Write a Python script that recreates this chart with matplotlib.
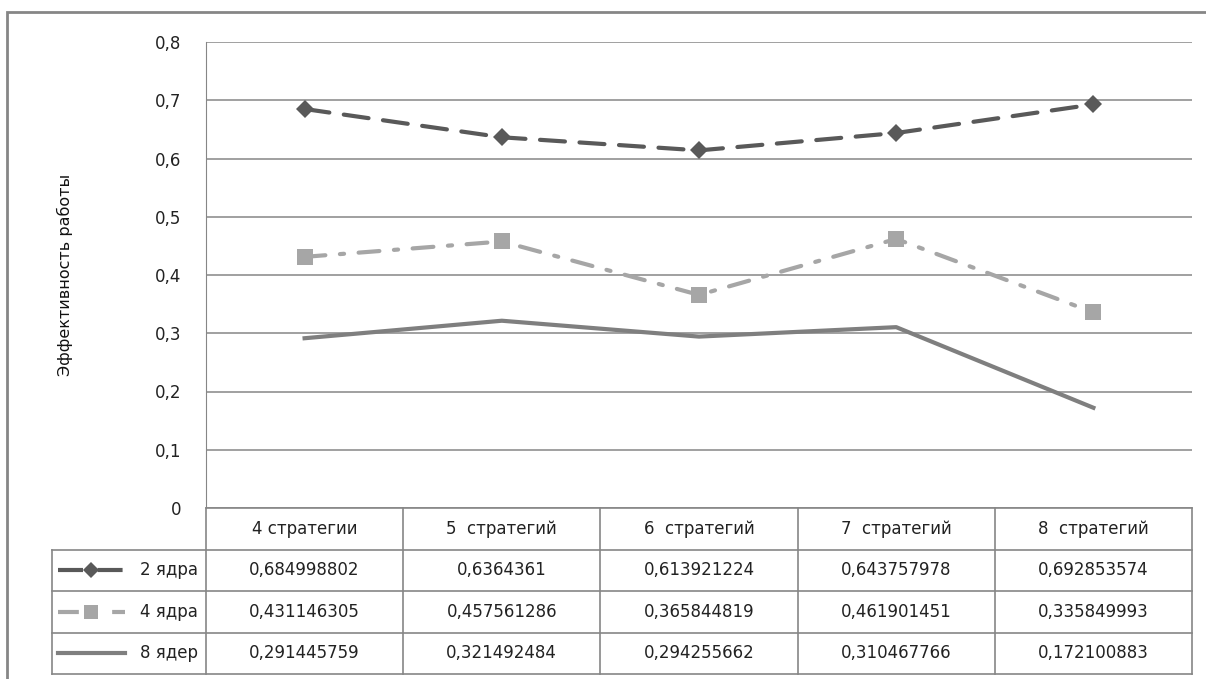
import matplotlib
matplotlib.use("Agg")
import matplotlib.pyplot as plt
from matplotlib.lines import Line2D
from matplotlib.patches import Rectangle

plt.rcParams['font.family'] = ['DejaVu Sans']

categories = ["4 стратегии", "5  стратегий", "6  стратегий", "7  стратегий", "8  стратегий"]
series_names = ["2 ядра", "4 ядра", "8 ядер"]
cores_2 = [0.684998802, 0.6364361, 0.613921224, 0.643757978, 0.692853574]
cores_4 = [0.431146305, 0.457561286, 0.365844819, 0.461901451, 0.335849993]
cores_8 = [0.291445759, 0.321492484, 0.294255662, 0.310467766, 0.172100883]
y_ticks = [0, 0.1, 0.2, 0.3, 0.4, 0.5, 0.6, 0.7, 0.8]

styles = [
    dict(color="#595959", linestyle=(0, (6, 3.5)), linewidth=3, marker="D", markersize=9),
    dict(color="#a6a6a6", linestyle=(0, (5, 3.5, 1, 3.5)), linewidth=3, marker="s", markersize=12),
    dict(color="#7f7f7f", linestyle="-", linewidth=3, marker=None, markersize=0),
]
series = [cores_2, cores_4, cores_8]
txt = "#222222"
lc = "#868686"

W, H = 1206, 679
fig = plt.figure(figsize=(W / 100, H / 100), dpi=100)


def rect(x0, y0, x1, y1):
    # axes box from pixel corners (top-left origin)
    return [x0 / W, 1 - y1 / H, (x1 - x0) / W, (y1 - y0) / H]


# outer chart frame
fig.patches.append(Rectangle((7 / W, -0.01), 1.1, 1 - 12 / H + 0.01, transform=fig.transFigure,
                             fill=False, edgecolor=lc, linewidth=2))

ax = fig.add_axes(rect(206, 42, 1192, 508))
xs = list(range(len(categories)))
for vals, st in zip(series, styles):
    ax.plot(xs, vals, color=st["color"], linestyle=st["linestyle"], linewidth=st["linewidth"],
            marker=st["marker"], markersize=st["markersize"], markeredgewidth=0,
            solid_joinstyle="round", dash_capstyle="round", zorder=3)

ax.set_xlim(-0.5, len(categories) - 0.5)
ax.set_ylim(0, 0.8)
ax.set_yticks(y_ticks)
ax.set_yticklabels([("%.1f" % t).replace(".", ",") if t else "0" for t in y_ticks],
                   fontsize=12, color=txt)
ax.set_xticks([])
ax.tick_params(axis="y", length=0, pad=18)
ax.grid(axis="y", color=lc, linewidth=1.1)
for s in ["top", "right", "bottom"]:
    ax.spines[s].set_visible(False)
ax.spines["left"].set_color(lc)
ax.set_ylabel("Эффективность работы", fontsize=11.5, color="#111111")
ax.yaxis.set_label_coords(-0.135, 0.5)

# data table under the plot: header row 0-1, series rows 1-4
tab = fig.add_axes(rect(206, 508, 1192, 674))
tab.set_xlim(-0.5, len(categories) - 0.5)
tab.set_ylim(4, 0)
tab.axis("off")
left = -0.5 - (206 - 52) / ((1192 - 206) / len(categories))
for r in range(5):
    x0 = -0.5 if r == 0 else left
    tab.plot([x0, len(categories) - 0.5], [r, r], color=lc, linewidth=1.2, clip_on=False)
for c in range(len(categories) + 1):
    tab.plot([c - 0.5, c - 0.5], [0, 4], color=lc, linewidth=1.2, clip_on=False)
tab.plot([left, left], [1, 4], color=lc, linewidth=1.2, clip_on=False)

for i, cat in enumerate(categories):
    tab.text(i, 0.5, cat, ha="center", va="center", fontsize=12, color=txt)
for r, (name, vals, st) in enumerate(zip(series_names, series, styles), start=1):
    yc = r + 0.5
    for i, v in enumerate(vals):
        tab.text(i, yc, ("%.9f" % v).rstrip("0").replace(".", ","),
                 ha="center", va="center", fontsize=12, color=txt)
    tab.text(-0.54, yc, name, ha="right", va="center", fontsize=12, color=txt)
    # legend key drawn inside the row label cell
    if st["marker"] is None:
        gx = [left + 0.03, left + 0.37]
        mk = None
    else:
        gx = [left + 0.03, left + 0.2, left + 0.37]
        mk = [1]
    tab.add_line(Line2D(gx, [yc] * len(gx), color=st["color"], linestyle=st["linestyle"],
                        linewidth=st["linewidth"], marker=st["marker"],
                        markersize=st["markersize"] * 0.85, markeredgewidth=0,
                        markevery=mk, clip_on=False))

fig.savefig("out.png", dpi=100)
